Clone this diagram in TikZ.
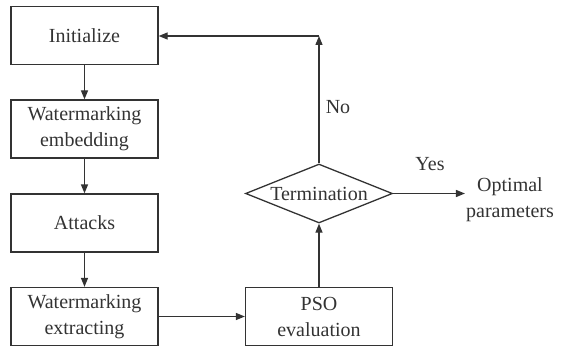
\documentclass[tikz,border=0pt]{standalone}
\usepackage{fontspec}
\setmainfont{Liberation Serif}
\usetikzlibrary{arrows.meta,shapes.geometric}
\definecolor{ink}{HTML}{333333}
\tikzset{
  every node/.style={text=ink, font=\fontsize{20}{26}\selectfont},
  procbox/.style={draw=ink, line width=1.3pt, minimum width=147pt, minimum height=58pt,
    inner sep=0pt, align=center},
  decide/.style={draw=ink, line width=1.3pt, diamond, aspect=2.5, inner sep=0pt,
    minimum width=147pt, minimum height=59pt},
  flow/.style={draw=ink, line width=1.3pt, -{Triangle[length=9pt,width=7pt]}},
  plain/.style={inner sep=0pt, align=center}
}
\begin{document}
\begin{tikzpicture}[x=1pt,y=-1pt]
  \useasboundingbox (0,0) rectangle (564,350);
  % processing chain on the left
  \node[procbox] (init) at (84.5,35.5) {Initialize};
  \node[procbox] (emb)  at (84.5,129)  {Watermarking\\embedding};
  \node[procbox] (att)  at (84.5,223)  {Attacks};
  \node[procbox] (ext)  at (84.5,316.5) {Watermarking\\extracting};
  % optimisation loop
  \node[procbox] (pso)  at (319,316.5) {PSO\\evaluation};
  \node[decide]  (term) at (319,193.5) {Termination};
  \node[plain]   (opt)  at (510,200) {Optimal\\parameters};
  \coordinate (corner) at (319,36);
  % labels
  \node[plain] (no)  at (338,107) {No};
  \node[plain] (yes) at (430,164) {Yes};
  % connectors
  \draw[flow] (init) -- (emb);
  \draw[flow] (emb) -- (att);
  \draw[flow] (att) -- (ext);
  \draw[flow] (ext) -- (pso);
  \draw[flow] (pso) -- (term);
  \draw[flow] (term.north) -- (corner);
  \draw[flow] (corner) -- (corner -| init.east);
  \draw[flow] (term.east) -- ([xshift=-1pt]opt.west |- term.east);
\end{tikzpicture}
\end{document}
